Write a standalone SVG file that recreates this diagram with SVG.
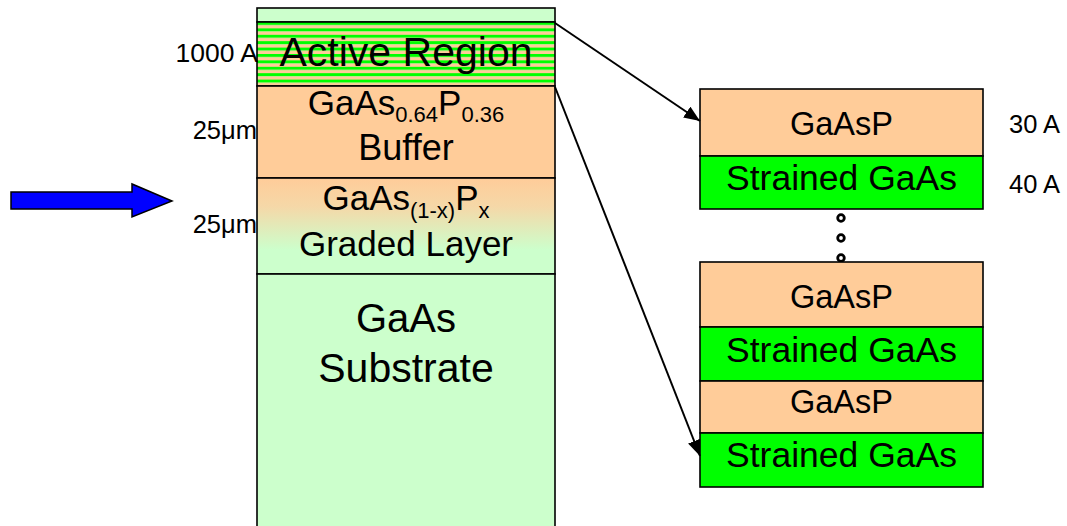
<svg xmlns="http://www.w3.org/2000/svg" width="1067" height="526" viewBox="0 0 1067 526">
<style>
text{font-family:"Liberation Sans",Arial,sans-serif;fill:#000}
.c{text-anchor:middle}
.e{text-anchor:end}
.box{stroke:#000;stroke-width:1.6}
.tan{fill:#FFCC99}
.lg{fill:#CCFFCC}
.g{fill:#00FF00}
.conn{stroke:#000;stroke-width:2;fill:none}
.dot{fill:#fff;stroke:#000;stroke-width:2.8}
</style>
<defs>
<pattern id="stripes" patternUnits="userSpaceOnUse" x="0" y="22" width="10" height="6.4">
<rect x="0" y="0" width="10" height="3.2" fill="#00FF00"/>
<rect x="0" y="3.2" width="10" height="3.2" fill="#FFCC99"/>
</pattern>
<linearGradient id="grad" x1="0" y1="0" x2="0" y2="1">
<stop offset="0" stop-color="#FFCC99"/>
<stop offset="0.3" stop-color="#F5D8A8"/>
<stop offset="0.75" stop-color="#CCFFCC"/>
<stop offset="1" stop-color="#CCFFCC"/>
</linearGradient>
<marker id="ah" markerUnits="userSpaceOnUse" markerWidth="18" markerHeight="14" refX="16" refY="6.5" orient="auto">
<path d="M0,0 L16,6.5 L0,13 z" fill="#000"/>
</marker>
</defs>

<g id="left-arrow">
<polygon points="11,192 132,192 132,184 172,201 132,217 132,209 11,209" fill="#0000FF" stroke="#000" stroke-width="1.5"/>
</g>

<g id="cap">
<rect class="box lg" x="257" y="8" width="298" height="14"/>
</g>
<g id="active-region">
<rect class="box" x="257" y="22" width="298" height="64" fill="url(#stripes)"/>
<text class="c" x="406" y="66" font-size="41">Active Region</text>
</g>
<g id="buffer">
<rect class="box tan" x="257" y="86" width="298" height="92"/>
<text class="c" x="406" y="115" font-size="35">GaAs<tspan font-size="22" dy="7">0.64</tspan><tspan dy="-7">P</tspan><tspan font-size="22" dy="7">0.36</tspan></text>
<text class="c" x="406" y="160" font-size="36">Buffer</text>
</g>
<g id="graded-layer">
<rect class="box" x="257" y="178" width="298" height="96" fill="url(#grad)"/>
<text class="c" x="406" y="210" font-size="35">GaAs<tspan font-size="22" dy="8">(1-x)</tspan><tspan dy="-8">P</tspan><tspan font-size="22" dy="8">x</tspan></text>
<text class="c" x="406" y="256" font-size="35">Graded Layer</text>
</g>
<g id="substrate">
<rect class="box lg" x="257" y="274" width="298" height="260"/>
<text class="c" x="406" y="332" font-size="40">GaAs</text>
<text class="c" x="406" y="382" font-size="41">Substrate</text>
</g>

<g id="labels">
<text class="e" x="258" y="62" font-size="26.5">1000 A</text>
<text class="e" x="257" y="139" font-size="25.5">25μm</text>
<text class="e" x="257" y="233" font-size="25.5">25μm</text>
<text x="1009" y="133" font-size="25.5">30 A</text>
<text x="1009" y="193" font-size="25.5">40 A</text>
</g>

<g id="stack-top">
<rect class="box tan" x="700" y="89" width="283" height="67"/>
<text class="c" x="841.5" y="135" font-size="32.5">GaAsP</text>
<rect class="box g" x="700" y="156" width="283" height="53"/>
<text class="c" x="841.5" y="190" font-size="35.5">Strained GaAs</text>
</g>

<g id="ellipsis">
<circle class="dot" cx="841" cy="218" r="3.3"/>
<circle class="dot" cx="841" cy="238" r="3.3"/>
<circle class="dot" cx="841" cy="258" r="3.3"/>
</g>

<g id="stack-bottom">
<rect class="box tan" x="700" y="262" width="283" height="65"/>
<text class="c" x="841.5" y="308" font-size="32.5">GaAsP</text>
<rect class="box g" x="700" y="327" width="283" height="54"/>
<text class="c" x="841.5" y="362" font-size="35.5">Strained GaAs</text>
<rect class="box tan" x="700" y="381" width="283" height="52"/>
<text class="c" x="841.5" y="413" font-size="32.5">GaAsP</text>
<rect class="box g" x="700" y="433" width="283" height="54"/>
<text class="c" x="841.5" y="467" font-size="35.5">Strained GaAs</text>
</g>

<g id="connectors">
<line class="conn" x1="555" y1="23" x2="700" y2="121" marker-end="url(#ah)"/>
<line class="conn" x1="555" y1="87" x2="700" y2="456" marker-end="url(#ah)"/>
</g>
</svg>
